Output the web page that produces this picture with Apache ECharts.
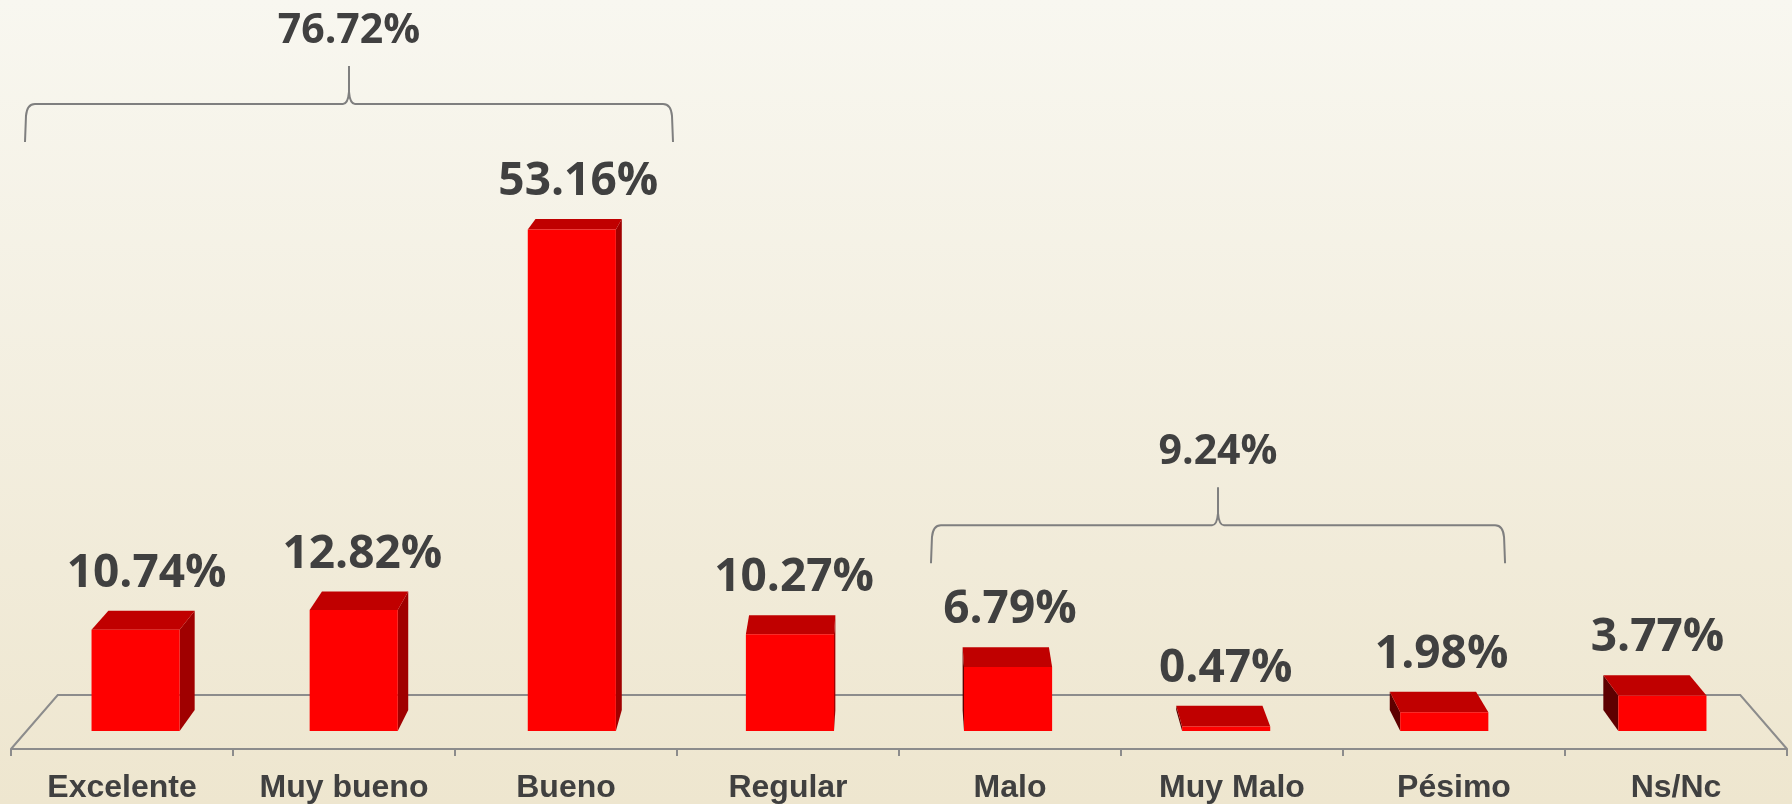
<!DOCTYPE html>
<html>
<head>
<meta charset="utf-8">
<script src="https://cdn.jsdelivr.net/npm/echarts@6/dist/echarts.min.js"></script>
<style>
html,body{margin:0;padding:0;}
#chart{width:1792px;height:804px;}
</style>
</head>
<body>
<div id="chart"></div>
<script>
// ---- data ----
const categories = ['Excelente', 'Muy bueno', 'Bueno', 'Regular', 'Malo', 'Muy Malo', 'Pésimo', 'Ns/Nc'];
const values = [10.74, 12.82, 53.16, 10.27, 6.79, 0.47, 1.98, 3.77];
const groupStart = [0, 4];
const groupEnd = [2, 6];
const groupTotals = [76.72, 9.24];

// ---- layout / style constants ----
const EYE_DY = 1026;          // distance of eye level above floor front line (px)
const S_FRONT = 0.9825;       // perspective scale of bar front face
const S_BACK = 0.962;         // perspective scale of bar back face
const S_FLOOR_BACK = 0.9474;  // perspective scale of floor back edge
const BAR_W = 0.404;          // bar width as fraction of band
const LABEL_GAP = 37;
const braceInset = [[0.063, 0.018], [0.144, 0.27]];
const braceLift = [40, 47];
const TEXT = '#404040';
const LINE = '#8c8c8c';

function proj(x, y, s, cx, eyeY) {
  return [cx + (x - cx) * s, eyeY + (y - eyeY) * s];
}

function barGeom(api, cs, i, v) {
  const base = api.coord([i, 0]);
  const top = api.coord([i, v]);
  const band = api.size([1, 0])[0];
  const cx = cs.x + cs.width / 2;
  const eyeY = base[1] - EYE_DY;
  const w = band * BAR_W;
  const xl = base[0] - w / 2, xr = base[0] + w / 2;
  const y0 = base[1], y1 = top[1];
  const P = (x, y, s) => proj(x, y, s, cx, eyeY);
  return {
    cx, xl, xr, y0, y1, P,
    front: [P(xl, y0, S_FRONT), P(xr, y0, S_FRONT), P(xr, y1, S_FRONT), P(xl, y1, S_FRONT)],
    topF: [P(xl, y1, S_FRONT), P(xr, y1, S_FRONT), P(xr, y1, S_BACK), P(xl, y1, S_BACK)],
    labelX: (P(base[0], y1, S_FRONT)[0] + P(base[0], y1, S_BACK)[0]) / 2 + 3,
    labelY: P(base[0], y1, S_BACK)[1] - LABEL_GAP
  };
}

function renderBar(params, api) {
  const i = api.value(0), v = api.value(1);
  const g = barGeom(api, params.coordSys, i, v);
  const children = [];
  const centerX = (g.xl + g.xr) / 2;
  let side, sideColor;
  if (centerX < g.cx) {
    side = [g.P(g.xr, g.y0, S_FRONT), g.P(g.xr, g.y1, S_FRONT), g.P(g.xr, g.y1, S_BACK), g.P(g.xr, g.y0, S_BACK)];
    sideColor = '#a00000';
  } else {
    side = [g.P(g.xl, g.y0, S_FRONT), g.P(g.xl, g.y1, S_FRONT), g.P(g.xl, g.y1, S_BACK), g.P(g.xl, g.y0, S_BACK)];
    sideColor = '#5e0000';
  }
  children.push({type: 'polygon', shape: {points: side}, style: {fill: sideColor}});
  children.push({type: 'polygon', shape: {points: g.topF}, style: {fill: '#c00000'}});
  children.push({type: 'polygon', shape: {points: g.front}, style: {fill: '#ff0000'}});
  children.push({
    type: 'text',
    style: {
      text: v.toFixed(2) + '%', x: g.labelX, y: g.labelY,
      align: 'center', verticalAlign: 'middle',
      fontFamily: '"Open Sans"', fontWeight: 'bold', fontSize: 46, fill: TEXT
    }
  });
  return {type: 'group', children};
}

function renderFloor(params, api) {
  const cs = params.coordSys;
  const cx = cs.x + cs.width / 2;
  const fy = cs.y + cs.height;
  const eyeY = fy - EYE_DY;
  const xL = cs.x, xR = cs.x + cs.width;
  const bl = proj(xL, fy, S_FLOOR_BACK, cx, eyeY);
  const br = proj(xR, fy, S_FLOOR_BACK, cx, eyeY);
  return {
    type: 'polyline',
    shape: {points: [[xL, fy], bl, br, [xR, fy]]},
    style: {stroke: LINE, lineWidth: 2, fill: null}
  };
}

function renderBrace(params, api) {
  const k = params.dataIndex;
  const s = api.value(0), e = api.value(1), total = api.value(2);
  const cs = params.coordSys;
  const band = api.size([1, 0])[0];
  let minLabelY = Infinity;
  for (let i = s; i <= e; i++) {
    const g = barGeom(api, cs, i, values[i]);
    minLabelY = Math.min(minLabelY, g.labelY);
  }
  const xl = api.coord([s, 0])[0] - band / 2 + braceInset[k][0] * band;
  const xr = api.coord([e, 0])[0] + band / 2 - braceInset[k][1] * band;
  const tx = (xl + xr) / 2;
  const yEnd = minLabelY - braceLift[k];
  const yLine = yEnd - 38;
  const yTip = yLine - 38;
  const yLabel = yTip - 35;
  const path = [
    'M', xl, yEnd, 'L', xl + 1, yLine + 12, 'Q', xl + 2, yLine, xl + 10, yLine,
    'L', tx - 6, yLine, 'Q', tx - 1, yLine, tx, yLine - 12, 'L', tx, yTip,
    'M', tx, yLine - 12, 'Q', tx + 1, yLine, tx + 6, yLine,
    'L', xr - 10, yLine, 'Q', xr - 2, yLine, xr - 1, yLine + 12, 'L', xr, yEnd
  ].join(' ');
  return {
    type: 'group',
    children: [
      {type: 'path', shape: {pathData: path}, style: {stroke: '#7f7f7f', lineWidth: 2, fill: null}},
      {type: 'text', style: {
        text: total.toFixed(2) + '%', x: tx, y: yLabel, align: 'center', verticalAlign: 'middle',
        fontFamily: '"Open Sans"', fontWeight: 'bold', fontSize: 41, fill: TEXT
      }}
    ]
  };
}

const chart = echarts.init(document.getElementById('chart'), null, {renderer: 'canvas'});
chart.setOption({
  animation: false,
  backgroundColor: new echarts.graphic.LinearGradient(0, 0, 0, 1, [
    {offset: 0, color: '#f8f7f0'},
    {offset: 1, color: '#eee6cf'}
  ]),
  grid: {left: 11, right: 5, top: 0, bottom: 52},
  xAxis: {
    type: 'category',
    data: categories,
    axisLine: {lineStyle: {color: LINE, width: 2}},
    axisTick: {show: true, length: 7, lineStyle: {color: LINE, width: 2}},
    axisLabel: {
      margin: 23, color: TEXT, fontFamily: '"Liberation Sans", Arial, sans-serif',
      fontWeight: 'bold', fontSize: 32, interval: 0
    },
    splitLine: {show: false}
  },
  yAxis: {type: 'value', min: 0, max: 78, show: false, splitLine: {show: false}},
  series: [
    {type: 'custom', z: 1, renderItem: renderFloor, data: [[0, 0]], encode: {x: 0, y: 1}, silent: true},
    {type: 'custom', z: 2, renderItem: renderBar, data: values.map((v, i) => [i, v]), encode: {x: 0, y: 1}},
    {type: 'custom', z: 3, renderItem: renderBrace,
     data: groupStart.map((s, k) => [s, groupEnd[k], groupTotals[k]]), encode: {x: 0, y: 2}}
  ]
});
</script>
</body>
</html>
